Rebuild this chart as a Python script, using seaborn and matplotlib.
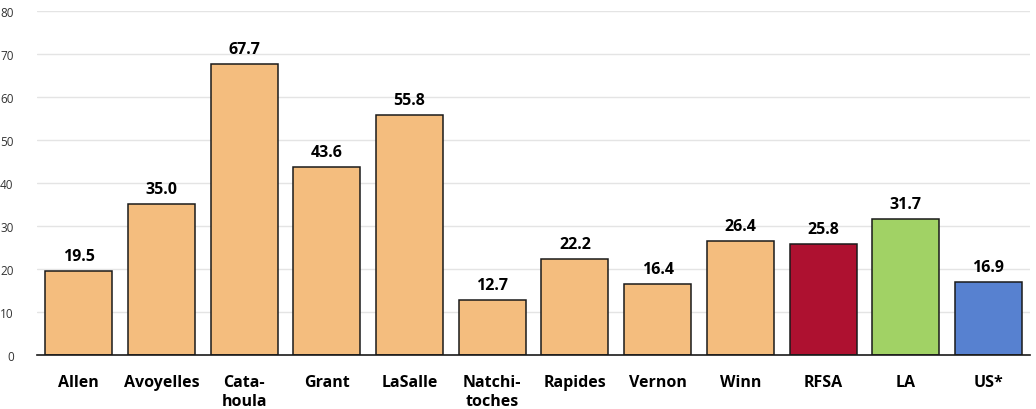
import matplotlib
matplotlib.use("Agg")
import pandas as pd
import seaborn as sns
import matplotlib.pyplot as plt

custom_params = {"axes.spines.right": False, "axes.spines.top": False,
                 "axes.spines.left": False}
sns.set_theme(style="white", rc=custom_params)
plt.rcParams['font.family'] = ['Open Sans', 'DejaVu Sans']

parishes = ['Allen', 'Avoyelles', 'Cata-\nhoula', 'Grant', 'LaSalle',
            'Natchi-\ntoches', 'Rapides', 'Vernon', 'Winn', 'RFSA', 'LA', 'US*']
rates = [19.5, 35.0, 67.7, 43.6, 55.8, 12.7, 22.2, 16.4, 26.4, 25.8, 31.7, 16.9]
bar_colors = ['#F4BD7E'] * 9 + ['#AE1130', '#A1D265', '#5781D0']

df = pd.DataFrame({'parish': parishes, 'rate': rates})

fig = plt.figure(figsize=(10.36, 4.10), dpi=100)
ax = fig.add_axes([0.036, 0.132, 0.958, 0.839])

sns.barplot(data=df, x='parish', y='rate', hue='parish',
            palette=bar_colors, legend=False, width=0.81,
            edgecolor='#1a1a1a', linewidth=1.1, saturation=1, ax=ax)

# value labels above each bar
for c in ax.containers:
    ax.bar_label(c, fmt='%.1f', padding=5, fontsize=11.5,
                 fontweight='bold', color='black')

ax.set_ylim(0, 80)
ax.set_yticks(range(0, 81, 10))
ax.set_xlim(-0.5, len(parishes) - 0.5)
ax.yaxis.grid(True, color='#e4e4e4', linewidth=1)
ax.set_axisbelow(True)
ax.spines['bottom'].set_color('#1a1a1a')
ax.spines['bottom'].set_linewidth(1.2)
ax.set_xlabel('')
ax.set_ylabel('')
ax.tick_params(axis='y', labelsize=8.5, labelcolor='#333333', length=0, pad=17)
ax.tick_params(axis='x', labelsize=11.5, labelcolor='black', length=0, pad=14)
for lbl in ax.get_xticklabels():
    lbl.set_fontweight('bold')
    lbl.set_linespacing(1.2)

fig.savefig('out.png', dpi=100)
